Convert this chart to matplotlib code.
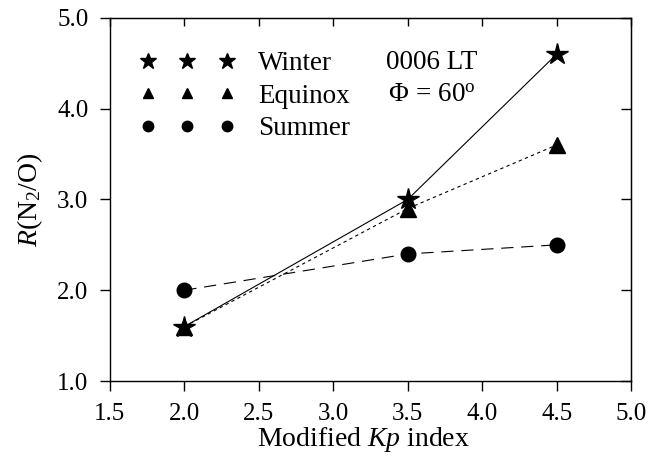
import matplotlib
matplotlib.use('Agg')
import matplotlib.pyplot as plt
from matplotlib.lines import Line2D

plt.rcParams['font.family'] = ['Liberation Serif', 'DejaVu Serif']
plt.rcParams['mathtext.fontset'] = 'custom'
plt.rcParams['mathtext.rm'] = 'Liberation Serif'
plt.rcParams['mathtext.it'] = 'Liberation Serif:italic'

# data
kp = [2.0, 3.5, 4.5]
winter = [1.6, 3.0, 4.6]
equinox = [1.6, 2.9, 3.6]
summer = [2.0, 2.4, 2.5]

fig = plt.figure(figsize=(6.54, 4.58), dpi=100)
ax = fig.add_axes([0.168, 0.168, 0.797, 0.793])

ax.plot(kp, summer, color='k', lw=0.8, ls=(0, (11, 7)), marker='o', markersize=10.5)
ax.plot(kp, equinox, color='k', lw=0.8, ls=(0, (3, 3)), marker='^', markersize=11)
ax.plot(kp, winter, color='k', lw=0.8, ls='-', marker='*', markersize=16)

ax.set_xlim(1.5, 5.0)
ax.set_ylim(1.0, 5.0)
ax.set_xticks([1.5, 2.0, 2.5, 3.0, 3.5, 4.0, 4.5, 5.0])
ax.set_yticks([1.0, 2.0, 3.0, 4.0, 5.0])
ax.set_xticklabels(['1.5', '2.0', '2.5', '3.0', '3.5', '4.0', '4.5', '5.0'])
ax.set_yticklabels(['1.0', '2.0', '3.0', '4.0', '5.0'])
# bottom/left ticks outward, top/right inward
ax.tick_params(axis='x', which='both', bottom=True, top=False, direction='out',
               length=7.5, width=1, labelsize=18, pad=8)
ax.tick_params(axis='y', which='both', left=True, right=False, direction='out',
               length=7.5, width=1, labelsize=18, pad=8)
ax2 = ax.secondary_xaxis('top')
ax2.set_xticks(ax.get_xticks())
ax2.tick_params(direction='in', length=6, width=1, labeltop=False)
ax3 = ax.secondary_yaxis('right')
ax3.set_yticks(ax.get_yticks())
ax3.tick_params(direction='in', length=7, width=1, labelright=False)
for s in ax.spines.values():
    s.set_linewidth(1)

ax.set_xlabel('Modified $\\mathit{Kp}$ index', fontsize=20)
ax.xaxis.set_label_coords(0.487, -0.122)
ax.set_ylabel('$\\mathit{R}$(N$_2$/O)', fontsize=20)
ax.yaxis.set_label_coords(-0.125, 0.5)

# legend: three markers per row
handles = [
    Line2D([], [], ls='none', color='k', marker='*', markersize=12),
    Line2D([], [], ls='none', color='k', marker='^', markersize=7.5),
    Line2D([], [], ls='none', color='k', marker='o', markersize=7.5),
]
labels = ['Winter', 'Equinox', 'Summer']
ax.legend(handles, labels, numpoints=3, frameon=False, loc='upper left',
          bbox_to_anchor=(0.058, 0.908), fontsize=19.5, handlelength=3.5,
          handletextpad=0.85, labelspacing=0.28, borderpad=0, borderaxespad=0)

ax.text(0.529, 0.876, '0006 LT', transform=ax.transAxes, fontsize=19.5, va='center')
ax.text(0.534, 0.786, '$\\Phi\\,=\\,60^{\\mathrm{o}}$', transform=ax.transAxes, fontsize=19.5, va='center')

fig.savefig('out.png', dpi=100)
